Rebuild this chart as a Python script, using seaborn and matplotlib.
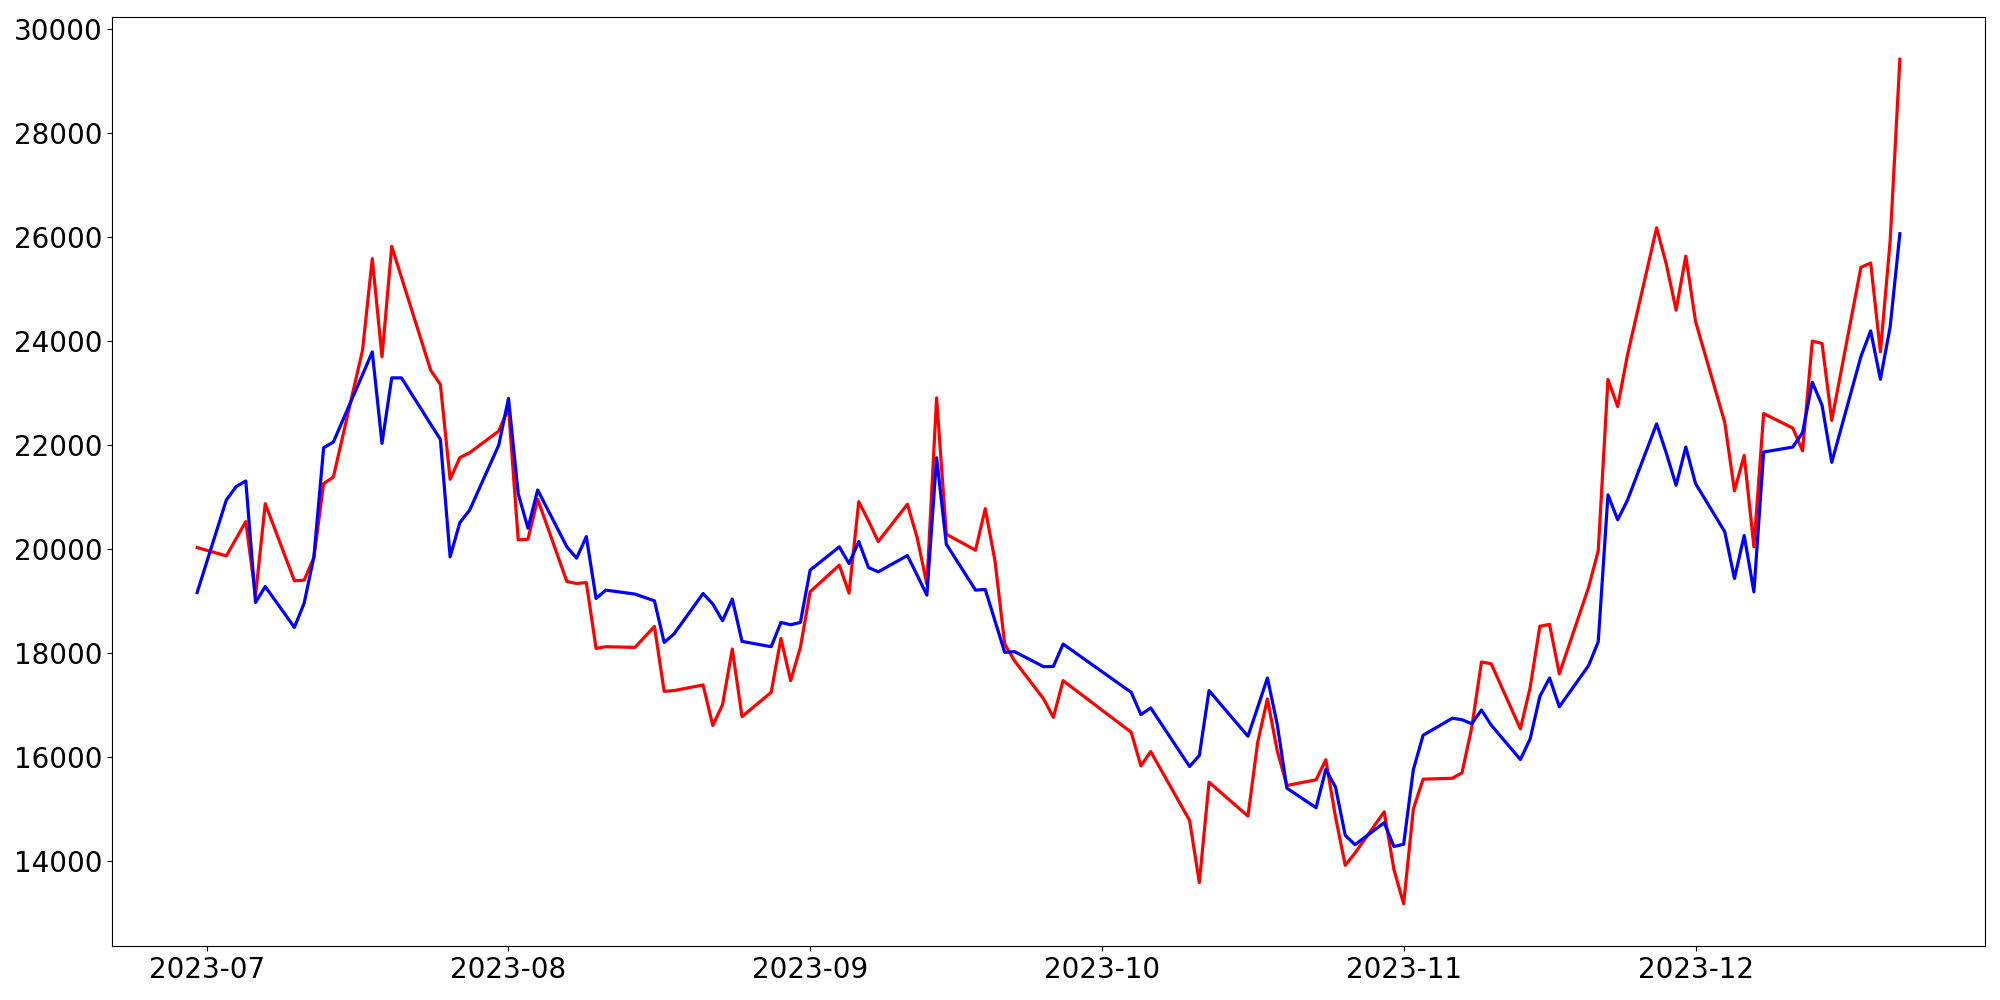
import matplotlib
matplotlib.use("Agg")
import matplotlib.pyplot as plt
import seaborn as sns
import pandas as pd

dates = [
    "2023-06-30", "2023-07-03", "2023-07-04", "2023-07-05", "2023-07-06", "2023-07-07",
    "2023-07-10", "2023-07-11", "2023-07-12", "2023-07-13", "2023-07-14",
    "2023-07-17", "2023-07-18", "2023-07-19", "2023-07-20", "2023-07-21",
    "2023-07-24", "2023-07-25", "2023-07-26", "2023-07-27", "2023-07-28",
    "2023-07-31", "2023-08-01", "2023-08-02", "2023-08-03", "2023-08-04",
    "2023-08-07", "2023-08-08", "2023-08-09", "2023-08-10", "2023-08-11",
    "2023-08-14", "2023-08-16", "2023-08-17", "2023-08-18",
    "2023-08-21", "2023-08-22", "2023-08-23", "2023-08-24", "2023-08-25",
    "2023-08-28", "2023-08-29", "2023-08-30", "2023-08-31", "2023-09-01",
    "2023-09-04", "2023-09-05", "2023-09-06", "2023-09-07", "2023-09-08",
    "2023-09-11", "2023-09-12", "2023-09-13", "2023-09-14", "2023-09-15",
    "2023-09-18", "2023-09-19", "2023-09-20", "2023-09-21", "2023-09-22",
    "2023-09-25", "2023-09-26", "2023-09-27",
    "2023-10-04", "2023-10-05", "2023-10-06",
    "2023-10-10", "2023-10-11", "2023-10-12",
    "2023-10-16", "2023-10-17", "2023-10-18", "2023-10-19", "2023-10-20",
    "2023-10-23", "2023-10-24", "2023-10-25", "2023-10-26", "2023-10-27",
    "2023-10-30", "2023-10-31", "2023-11-01", "2023-11-02", "2023-11-03",
    "2023-11-06", "2023-11-07", "2023-11-08", "2023-11-09", "2023-11-10",
    "2023-11-13", "2023-11-14", "2023-11-15", "2023-11-16", "2023-11-17",
    "2023-11-20", "2023-11-21", "2023-11-22", "2023-11-23", "2023-11-24",
    "2023-11-27", "2023-11-28", "2023-11-29", "2023-11-30", "2023-12-01",
    "2023-12-04", "2023-12-05", "2023-12-06", "2023-12-07", "2023-12-08",
    "2023-12-11", "2023-12-12", "2023-12-13", "2023-12-14", "2023-12-15",
    "2023-12-18", "2023-12-19", "2023-12-20", "2023-12-21", "2023-12-22",
]

red_values = [
    20029, 19869, 20198, 20527, 19102, 20872,
    19390, 19403, 19837, 21256, 21384,
    23820, 25579, 23692, 25815, 25220,
    23437, 23162, 21340, 21755, 21850,
    22267, 22714, 20176, 20189, 20957,
    19376, 19338, 19357, 18091, 18124,
    18111, 18513, 17267, 17280,
    17389, 16609, 17011, 18080, 16781,
    17247, 18283, 17472, 18111, 19179,
    19691, 19154, 20911, 20541, 20144,
    20861, 20220, 19326, 22905, 20285,
    19978, 20776, 19773, 18175, 17855,
    17121, 16768, 17472,
    16480, 15832, 16110,
    14787, 13592, 15521,
    14869, 16288, 17121, 16129, 15458,
    15567, 15951, 14850, 13923, 14159,
    14952, 13845, 13185, 15007, 15579,
    15596, 15701, 16572, 17830, 17796,
    16545, 17337, 18517, 18552, 17602,
    19258, 19965, 23259, 22738, 23724,
    26172, 25470, 24590, 25628, 24374,
    22435, 21118, 21799, 20042, 22604,
    22324, 21887, 23995, 23951, 22472,
    25414, 25495, 23790, 25913, 29411,
]

blue_values = [
    19165, 20943, 21198, 21308, 18974, 19280,
    18494, 18962, 19850, 21946, 22056,
    23350, 23788, 22031, 23289, 23289,
    22400, 22107, 19850, 20508, 20746,
    21998, 22894, 21064, 20400, 21135,
    20042, 19825, 20239, 19050, 19211,
    19135, 19006, 18206, 18367,
    19146, 18943, 18623, 19039, 18226,
    18124, 18590, 18546, 18590, 19595,
    20042, 19722, 20144, 19645, 19562,
    19876, 19499, 19115, 21755, 20093,
    19211, 19224, 18620, 18015, 18030,
    17740, 17745, 18175,
    17247, 16820, 16948,
    15822, 16033, 17280,
    16403, 16960, 17523, 16641, 15406,
    15030, 15765, 15425, 14499, 14320,
    14742, 14286, 14328, 15763, 16423,
    16749, 16722, 16643, 16908, 16617,
    15956, 16353, 17170, 17523, 16969,
    17759, 18218, 21041, 20564, 20936,
    22405, 21840, 21226, 21960, 21259,
    20333, 19434, 20260, 19177, 21864,
    21960, 22238, 23205, 22765, 21666,
    23701, 24192, 23262, 24265, 26059,
]

df = pd.DataFrame({
    "date": pd.to_datetime(dates),
    "red": red_values,
    "blue": blue_values,
})

fig, ax = plt.subplots(figsize=(20, 10), dpi=100)
sns.lineplot(data=df, x="date", y="red", color="red", linewidth=2.3, ax=ax)
sns.lineplot(data=df, x="date", y="blue", color="blue", linewidth=2.3, ax=ax)

ax.set_xlabel("")
ax.set_ylabel("")
ax.tick_params(axis="both", labelsize=20)
fig.subplots_adjust(left=0.056, right=0.9925, top=0.983, bottom=0.054)
fig.savefig("out.png", dpi=100)
